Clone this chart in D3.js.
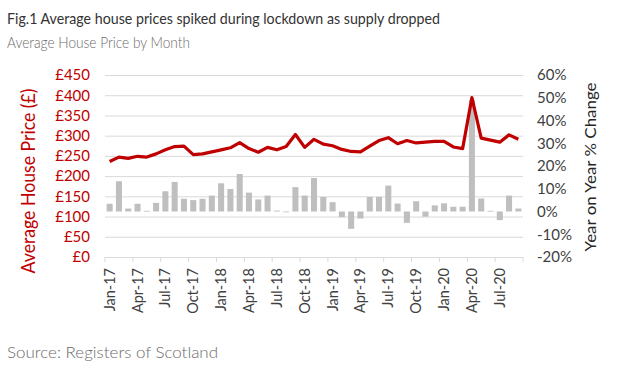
<!DOCTYPE html>
<html><head><meta charset="utf-8">
<script src="https://cdn.jsdelivr.net/npm/d3@7"></script>
<style>body{margin:0;background:#fff}svg{display:block}</style>
</head><body><svg id="c" width="637" height="369"></svg>
<script>
const months = ["Jan-17","Feb-17","Mar-17","Apr-17","May-17","Jun-17","Jul-17","Aug-17","Sep-17","Oct-17","Nov-17","Dec-17",
"Jan-18","Feb-18","Mar-18","Apr-18","May-18","Jun-18","Jul-18","Aug-18","Sep-18","Oct-18","Nov-18","Dec-18",
"Jan-19","Feb-19","Mar-19","Apr-19","May-19","Jun-19","Jul-19","Aug-19","Sep-19","Oct-19","Nov-19","Dec-19",
"Jan-20","Feb-20","Mar-20","Apr-20","May-20","Jun-20","Jul-20","Aug-20","Sep-20"];
const avgPrice = [236,247,244,249,247,255,265,273,274,253,255,260,265,270,283,268,259,271,265,273,303,271,291,279,275,266,261,260,274,288,295,280,288,282,284,286,286,272,268,394,294,289,284,302,291];
const yoyChange = [3.4,13.3,1.3,3.4,0.3,3.8,8.9,13.0,5.6,5.0,5.6,7.0,12.4,9.9,16.5,8.3,5.3,7.0,0.4,-0.2,10.7,7.0,14.7,6.4,4.1,-2.5,-7.6,-3.1,6.4,6.4,11.4,3.5,-5.0,4.5,-2.3,2.7,3.6,2.1,2.1,49,5.7,0.3,-3.8,7.0,1.3];
const leftTicks = [0,50,100,150,200,250,300,350,400,450];
const rightTicks = [-20,-10,0,10,20,30,40,50,60];
const title = "Fig.1 Average house prices spiked during lockdown as supply dropped";
const subtitle = "Average House Price by Month";
const source = "Source: Registers of Scotland";

const svg = d3.select("#c");
const L = 105, R = 523, T = 75, B = 257;
const FONT = "Lato, Carlito, 'Open Sans', sans-serif";
const x = d3.scaleBand().domain(months).range([L, R]).paddingInner(0.35).paddingOuter(0.175);
const xb = d3.scaleBand().domain(months).range([L, R]);
const yL = d3.scaleLinear().domain([0,450]).range([B, T]);
const yR = d3.scaleLinear().domain([-20,60]).range([B, T]);
const red = "#c00000";

svg.append("text").attr("x",7).attr("y",24).attr("font-family",FONT)
  .attr("font-size",16).attr("fill","#333").attr("textLength",433).attr("lengthAdjust","spacingAndGlyphs").text(title);
svg.append("text").attr("x",7).attr("y",48).attr("font-family",FONT).attr("font-weight",300)
  .attr("font-size",15).attr("fill","#6b6b6b").attr("textLength",183).attr("lengthAdjust","spacingAndGlyphs").text(subtitle);
svg.append("text").attr("x",7).attr("y",358).attr("font-family",FONT).attr("font-weight",300)
  .attr("font-size",16).attr("fill","#6b6b6b").attr("textLength",211).attr("lengthAdjust","spacingAndGlyphs").text(source);

// gridlines
svg.append("g").selectAll("line").data(leftTicks).join("line")
  .attr("x1",L).attr("x2",R).attr("y1",d=>yL(d)+0.5).attr("y2",d=>yL(d)+0.5)
  .attr("stroke","#d9d9d9").attr("stroke-width",1);

// left axis labels
const gl = svg.append("g").attr("transform",`translate(${L-15},0)`)
  .call(d3.axisLeft(yL).tickValues(leftTicks).tickFormat(d=>"£"+d).tickSize(0).tickPadding(0));
gl.select(".domain").remove();
gl.selectAll("text").attr("font-family",FONT).attr("font-size",15).attr("fill",red);

// right axis labels
const gr = svg.append("g").attr("transform",`translate(${R+14},0)`)
  .call(d3.axisRight(yR).tickValues(rightTicks).tickFormat(d=>d+"%").tickSize(0).tickPadding(0));
gr.select(".domain").remove();
gr.selectAll("text").attr("font-family",FONT).attr("font-size",15).attr("fill","#404040");

// bars
svg.append("g").selectAll("rect").data(months).join("rect")
  .attr("x",d=>x(d)).attr("width",x.bandwidth())
  .attr("y",(d,i)=>Math.min(yR(yoyChange[i]),yR(0)))
  .attr("height",(d,i)=>Math.max(0.8,Math.abs(yR(yoyChange[i])-yR(0))))
  .attr("fill","#bfbfbf");

// x axis
const tickMonths = months.filter((d,i)=>i%3===0);
const gx = svg.append("g").attr("transform",`translate(0,${B})`);
gx.append("line").attr("x1",L).attr("x2",R).attr("y1",0.5).attr("y2",0.5).attr("stroke","#d9d9d9");
gx.selectAll("line.t").data(tickMonths.concat(["end"])).join("line").attr("class","t")
  .attr("x1",d=>d==="end"?R:xb(d)).attr("x2",d=>d==="end"?R:xb(d)).attr("y1",0).attr("y2",5)
  .attr("stroke","#d9d9d9");
gx.selectAll("text").data(tickMonths).join("text")
  .attr("transform",d=>`translate(${xb(d)+xb.bandwidth()/2+5},11) rotate(-90)`)
  .attr("text-anchor","end").attr("font-family",FONT)
  .attr("font-size",14.5).attr("fill","#404040").text(d=>d);

// line
const line = d3.line().x((d,i)=>xb(months[i])+xb.bandwidth()/2).y(d=>yL(d));
svg.append("path").datum(avgPrice).attr("d",line).attr("fill","none")
  .attr("stroke",red).attr("stroke-width",3.2).attr("stroke-linejoin","round");

// axis titles
svg.append("text").attr("transform","translate(35,181) rotate(-90)").attr("text-anchor","middle")
  .attr("font-family",FONT).attr("font-size",18.5).attr("fill",red)
  .attr("textLength",185).attr("lengthAdjust","spacingAndGlyphs")
  .text("Average House Price (£)");
svg.append("text").attr("transform","translate(596,167) rotate(-90)").attr("text-anchor","middle")
  .attr("font-family",FONT).attr("font-size",16).attr("fill","#262626")
  .attr("textLength",169).attr("lengthAdjust","spacingAndGlyphs")
  .text("Year on Year % Change");
</script></body></html>
